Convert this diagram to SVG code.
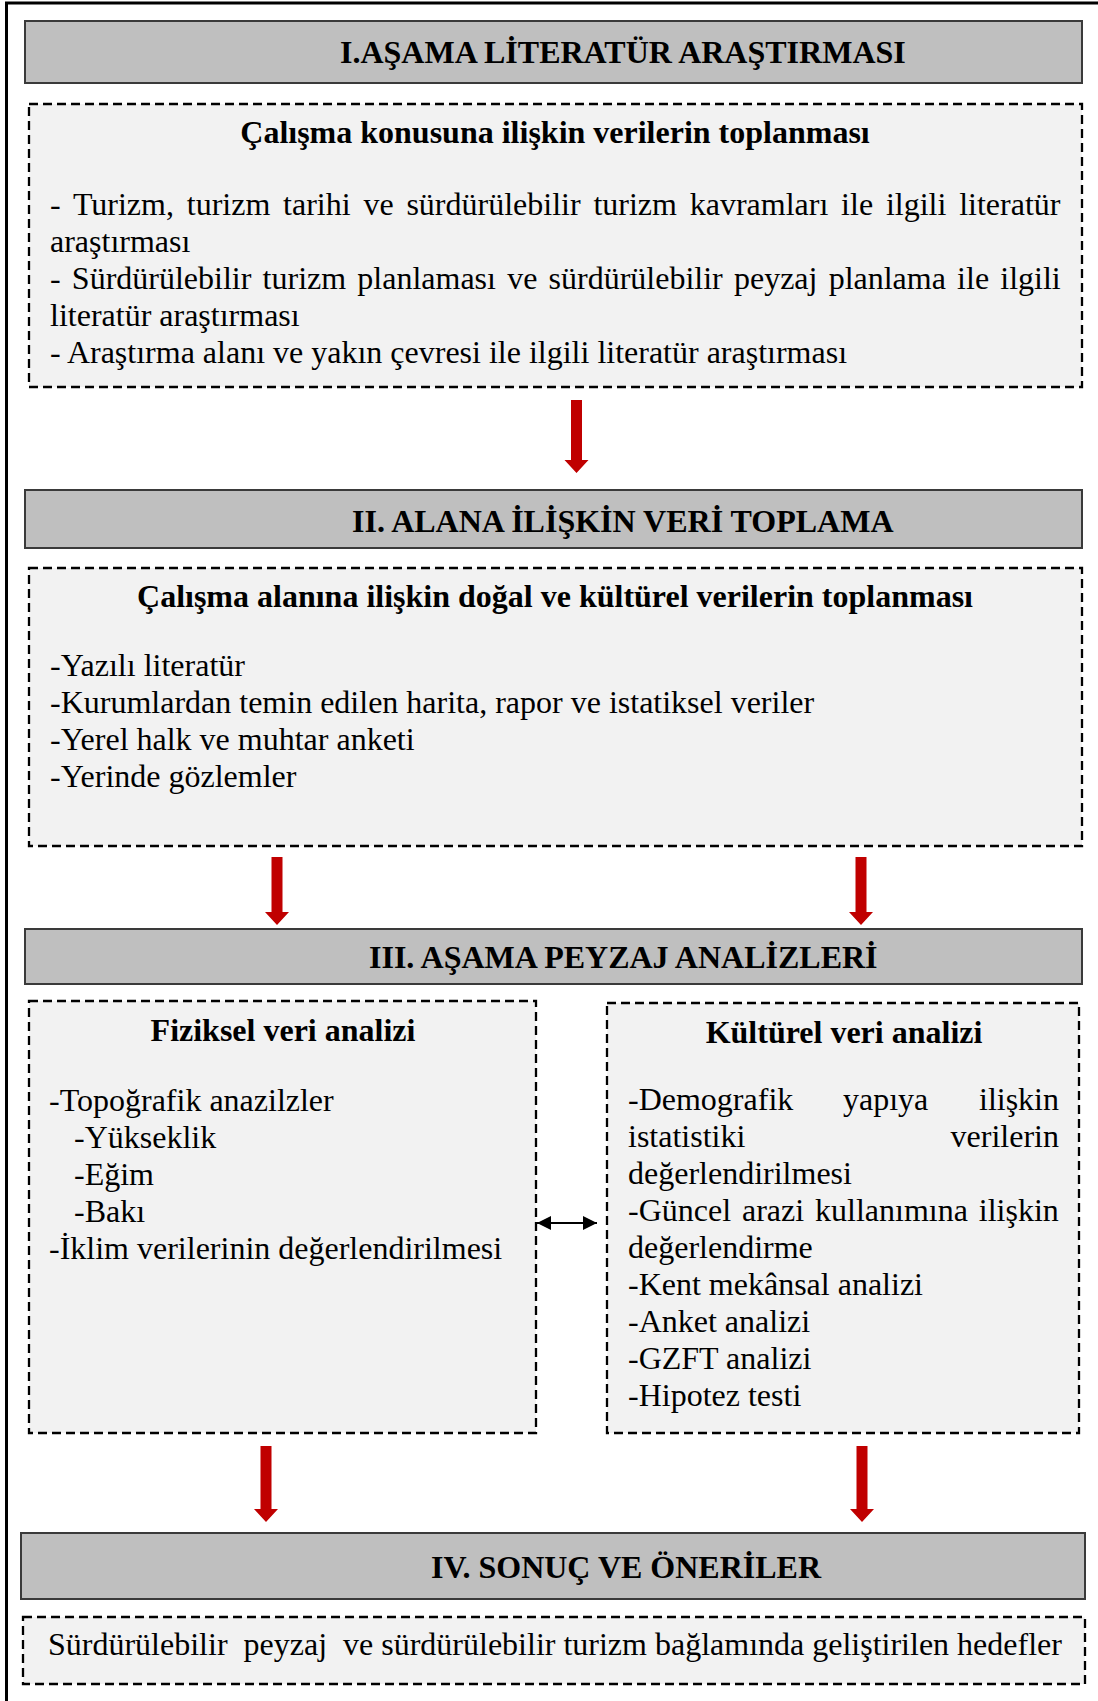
<svg xmlns="http://www.w3.org/2000/svg" width="1098" height="1701" viewBox="0 0 1098 1701">
<defs>
<style>
.hdr{fill:#bfbfbf;stroke:#3a3a3a;stroke-width:2}
.dash{fill:#f2f2f2;stroke:#000;stroke-width:2.3;stroke-dasharray:9 5}
text{font-family:"Liberation Serif","Times New Roman",serif;font-size:32px;fill:#000}
.b{font-weight:bold}
.c{text-anchor:middle}
.e{text-anchor:end}
.red{fill:#c00000}
</style>
<marker id="ah" viewBox="0 0 10 10" refX="10" refY="5" markerWidth="7.5" markerHeight="7" markerUnits="strokeWidth" orient="auto-start-reverse">
<path d="M0,0 L10,5 L0,10 z" fill="#000"/>
</marker>
</defs>
<rect width="1098" height="1701" fill="#fff"/>
<path d="M6.5,1701 V3 H1098" fill="none" stroke="#000" stroke-width="3"/>

<g id="stage1">
<rect class="hdr" x="25" y="21" width="1057" height="62"/>
<text class="b" x="340" y="63">I.AŞAMA LİTERATÜR ARAŞTIRMASI</text>
</g>
<g id="box1">
<rect class="dash" x="29" y="104" width="1053" height="283"/>
<text class="b c" x="555" y="143">Çalışma konusuna ilişkin verilerin toplanması</text>
<text x="50" y="215" word-spacing="4.8">- Turizm, turizm tarihi ve sürdürülebilir turizm kavramları ile ilgili literatür</text>
<text x="50" y="252">araştırması</text>
<text x="50" y="289" word-spacing="3.2">- Sürdürülebilir turizm planlaması ve sürdürülebilir peyzaj planlama ile ilgili</text>
<text x="50" y="326">literatür araştırması</text>
<text x="50" y="363">- Araştırma alanı ve yakın çevresi ile ilgili literatür araştırması</text>
</g>

<g id="stage2">
<rect class="hdr" x="25" y="490" width="1057" height="58"/>
<text class="b" x="352" y="532">II. ALANA İLİŞKİN VERİ TOPLAMA</text>
</g>
<g id="box2">
<rect class="dash" x="29" y="568" width="1053" height="278"/>
<text class="b c" x="555" y="607">Çalışma alanına ilişkin doğal ve kültürel verilerin toplanması</text>
<text x="50" y="676">-Yazılı literatür</text>
<text x="50" y="713">-Kurumlardan temin edilen harita, rapor ve istatiksel veriler</text>
<text x="50" y="750">-Yerel halk ve muhtar anketi</text>
<text x="50" y="787">-Yerinde gözlemler</text>
</g>

<g id="stage3">
<rect class="hdr" x="25" y="929" width="1057" height="55"/>
<text class="b" x="369" y="968">III. AŞAMA PEYZAJ ANALİZLERİ</text>
</g>
<g id="physical">
<rect class="dash" x="29" y="1001" width="507" height="432"/>
<text class="b c" x="283" y="1041">Fiziksel veri analizi</text>
<text x="49" y="1111">-Topoğrafik anazilzler</text>
<text x="74" y="1148">-Yükseklik</text>
<text x="74" y="1185">-Eğim</text>
<text x="74" y="1222">-Bakı</text>
<text x="49" y="1259">-İklim verilerinin değerlendirilmesi</text>
</g>
<g id="cultural">
<rect class="dash" x="607" y="1003" width="472" height="430"/>
<text class="b c" x="844" y="1043">Kültürel veri analizi</text>
<text x="628" y="1110">-Demografik</text>
<text x="843" y="1110">yapıya</text>
<text class="e" x="1059" y="1110">ilişkin</text>
<text x="628" y="1147">istatistiki</text>
<text class="e" x="1059" y="1147">verilerin</text>
<text x="628" y="1184">değerlendirilmesi</text>
<text x="628" y="1221" word-spacing="2.9">-Güncel arazi kullanımına ilişkin</text>
<text x="628" y="1258">değerlendirme</text>
<text x="628" y="1295">-Kent mekânsal analizi</text>
<text x="628" y="1332">-Anket analizi</text>
<text x="628" y="1369">-GZFT analizi</text>
<text x="628" y="1406">-Hipotez testi</text>
</g>

<g id="stage4">
<rect class="hdr" x="21" y="1533" width="1064" height="66"/>
<text class="b" x="431" y="1578">IV. SONUÇ VE ÖNERİLER</text>
</g>
<g id="box4">
<rect class="dash" x="23" y="1617" width="1062" height="67"/>
<text x="48" y="1655" xml:space="preserve">Sürdürülebilir  peyzaj  ve sürdürülebilir turizm bağlamında geliştirilen hedefler</text>
</g>

<g id="connectors">
<polygon class="red" points="571,400 582,400 582,460 588.5,460 576.5,473 564.5,460 571,460"/>
<polygon class="red" points="271.5,857 282.5,857 282.5,912 289,912 277,925 265,912 271.5,912"/>
<polygon class="red" points="855.5,857 866.5,857 866.5,912 873,912 861,925 849,912 855.5,912"/>
<polygon class="red" points="260.5,1446 271.5,1446 271.5,1509 278,1509 266,1522 254,1509 260.5,1509"/>
<polygon class="red" points="856.5,1446 867.5,1446 867.5,1509 874,1509 862,1522 850,1509 856.5,1509"/>
<line x1="537" y1="1223" x2="597" y2="1223" stroke="#000" stroke-width="2" marker-start="url(#ah)" marker-end="url(#ah)"/>
</g>
</svg>
